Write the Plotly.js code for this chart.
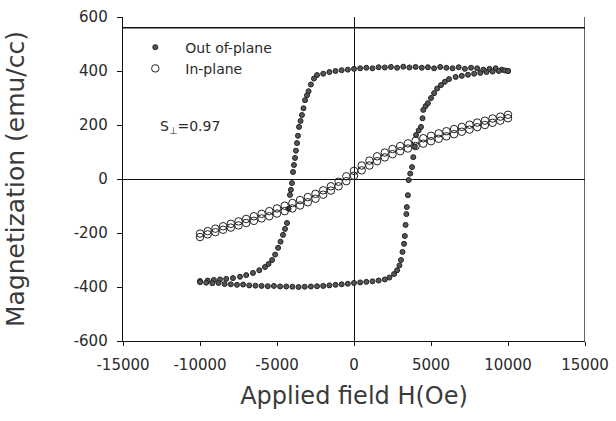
<!DOCTYPE html>
<html>
<head>
<meta charset="utf-8">
<script src="https://cdn.plot.ly/plotly-3.0.1.min.js"></script>
<style>html,body{margin:0;padding:0;background:#fff;}</style>
</head>
<body>
<div id="chart" style="width:616px;height:421px;"></div>
<script>
// Out-of-plane: descending branch (+10000 -> -10000)
const outDownH = [10000, 9600, 9200, 8800, 8400, 8000, 7600, 7200, 6800, 6400, 6000, 5600, 5200, 4800, 4400, 4000, 3600, 3200, 2800, 2400, 2000, 1600, 1200, 800, 400, 0, -400, -800, -1200, -1600, -2000, -2400, -2600, -2800, -2950, -3050, -3180, -3280, -3380, -3470, -3570, -3640, -3700, -3770, -3830, -3900, -3960, -4030, -4100, -4160, -4250, -4350, -4480, -4610, -4770, -4930, -5120, -5320, -5550, -5780, -6150, -6560, -7000, -7400, -7860, -8300, -8700, -9100, -9500, -10000];
const outDownM = [400, 405, 410, 408, 405, 410, 412, 408, 414, 410, 412, 415, 410, 414, 412, 415, 413, 416, 412, 415, 413, 414, 410, 412, 410, 408, 405, 403, 400, 396, 390, 385, 372, 350, 325, 310, 292, 262, 237, 215, 193, 160, 133, 105, 78, 52, 26, -15, -40, -59, -110, -163, -185, -207, -232, -255, -280, -300, -315, -326, -338, -348, -356, -362, -367, -370, -372, -374, -376, -378];
// Out-of-plane: ascending branch (-10000 -> +10000)
const outUpH = [-10000, -9600, -9200, -8800, -8400, -8000, -7600, -7200, -6800, -6400, -6000, -5600, -5200, -4800, -4400, -4000, -3600, -3200, -2800, -2400, -2000, -1600, -1200, -800, -400, 0, 400, 800, 1200, 1600, 2000, 2300, 2600, 2800, 2950, 3050, 3150, 3250, 3300, 3350, 3400, 3430, 3500, 3550, 3650, 3770, 3850, 3950, 4030, 4200, 4350, 4450, 4500, 4650, 4800, 5000, 5200, 5400, 5650, 5900, 6170, 6600, 7000, 7400, 7800, 8200, 8600, 9000, 9400, 9800, 10000];
const outUpM = [-382, -384, -386, -385, -389, -390, -392, -391, -394, -395, -396, -397, -396, -398, -398, -399, -400, -399, -398, -397, -396, -394, -392, -390, -388, -385, -383, -381, -379, -376, -372, -365, -352, -338, -320, -300, -270, -240, -211, -170, -130, -104, -60, -4, 20, 44, 81, 120, 163, 180, 193, 225, 256, 270, 281, 300, 318, 335, 348, 360, 370, 378, 382, 386, 390, 393, 396, 398, 400, 402, 400];
// In-plane: ascending branch
const inUpH = [-10000, -9500, -9000, -8500, -8000, -7500, -7000, -6500, -6000, -5500, -5000, -4500, -4000, -3500, -3000, -2500, -2000, -1500, -1000, -500, 0, 500, 1000, 1500, 2000, 2500, 3000, 3500, 4000, 4500, 5000, 5500, 6000, 6500, 7000, 7500, 8000, 8500, 9000, 9500, 10000];
const inUpM = [-215, -205, -197, -188, -180, -172, -163, -155, -146, -138, -128, -119, -109, -98, -86, -73, -58, -43, -27, -8, 12, 32, 50, 66, 80, 92, 103, 113, 122, 131, 140, 149, 158, 166, 175, 183, 192, 200, 208, 216, 225];
// In-plane: descending branch
const inDownH = [10000, 9500, 9000, 8500, 8000, 7500, 7000, 6500, 6000, 5500, 5000, 4500, 4000, 3500, 3000, 2500, 2000, 1500, 1000, 500, 0, -500, -1000, -1500, -2000, -2500, -3000, -3500, -4000, -4500, -5000, -5500, -6000, -6500, -7000, -7500, -8000, -8500, -9000, -9500, -10000];
const inDownM = [238, 231, 224, 216, 209, 201, 193, 185, 177, 169, 160, 151, 142, 132, 122, 111, 98, 84, 68, 50, 30, 10, -10, -27, -42, -55, -67, -78, -89, -99, -109, -119, -129, -138, -148, -157, -166, -175, -184, -193, -202];

const seriesNames = ["Out of-plane", "In-plane"];
const xTicks = [-15000, -10000, -5000, 0, 5000, 10000, 15000];
const yTicks = [-600, -400, -200, 0, 200, 400, 600];

const outMarker = {symbol: "circle", size: 5, color: "#555", line: {color: "#222", width: 1}};
const inMarker = {symbol: "circle-open", size: 7.5, color: "#222", line: {color: "#222", width: 1}};

const traces = [
  {x: outDownH.concat(outUpH), y: outDownM.concat(outUpM), mode: "markers", type: "scatter",
   name: seriesNames[0], marker: outMarker},
  {x: inUpH.concat(inDownH), y: inUpM.concat(inDownM), mode: "markers", type: "scatter",
   name: seriesNames[1], marker: inMarker}
];

const tickFont = {family: "DejaVu Sans", size: 15, color: "#2a2a2a"};
const layout = {
  width: 616, height: 421,
  margin: {l: 123, r: 31, t: 17, b: 80},
  paper_bgcolor: "#fff", plot_bgcolor: "#fff",
  showlegend: true,
  legend: {x: 0.005, y: 0.955, xanchor: "left", yanchor: "top", bgcolor: "rgba(0,0,0,0)",
           font: {family: "DejaVu Sans", size: 14, color: "#2a2a2a"}, itemwidth: 50, tracegroupgap: 0},
  xaxis: {
    range: [-15000, 15000], tickvals: xTicks, ticktext: xTicks.map(String),
    showgrid: false, zeroline: true, zerolinecolor: "#111", zerolinewidth: 1,
    showline: true, linecolor: "#111", linewidth: 1.3, ticks: "outside", ticklen: 4, tickcolor: "#111",
    tickfont: tickFont, ticklabelstandoff: 6,
    title: {text: "Applied field H(Oe)", font: {family: "DejaVu Sans", size: 24, color: "#3a3a3a"}, standoff: 14}
  },
  yaxis: {
    range: [-600, 600], tickvals: yTicks, ticktext: yTicks.map(String),
    showgrid: false, zeroline: true, zerolinecolor: "#111", zerolinewidth: 1,
    showline: true, linecolor: "#111", linewidth: 1.3, ticks: "outside", ticklen: 5, tickcolor: "#111",
    tickfont: tickFont, ticklabelstandoff: 6,
    title: {text: "Magnetization (emu/cc)", font: {family: "DejaVu Sans", size: 25, color: "#3a3a3a"}, standoff: 42}
  },
  shapes: [
    {type: "line", xref: "x", yref: "y", x0: -15000, x1: 15000, y0: 560, y1: 560, line: {color: "#111", width: 1.5}},
    {type: "line", xref: "x", yref: "y", x0: 15000, x1: 15000, y0: -600, y1: 605, line: {color: "#111", width: 1.3}}
  ],
  annotations: [
    {xref: "x", yref: "y", x: -12750, y: 193, xanchor: "left", yanchor: "middle", showarrow: false,
     text: "S<sub>\u22a5</sub>=0.97", font: {family: "DejaVu Sans", size: 14, color: "#2a2a2a"}}
  ]
};

Plotly.newPlot("chart", traces, layout, {displayModeBar: false, staticPlot: true});
</script>
</body>
</html>
